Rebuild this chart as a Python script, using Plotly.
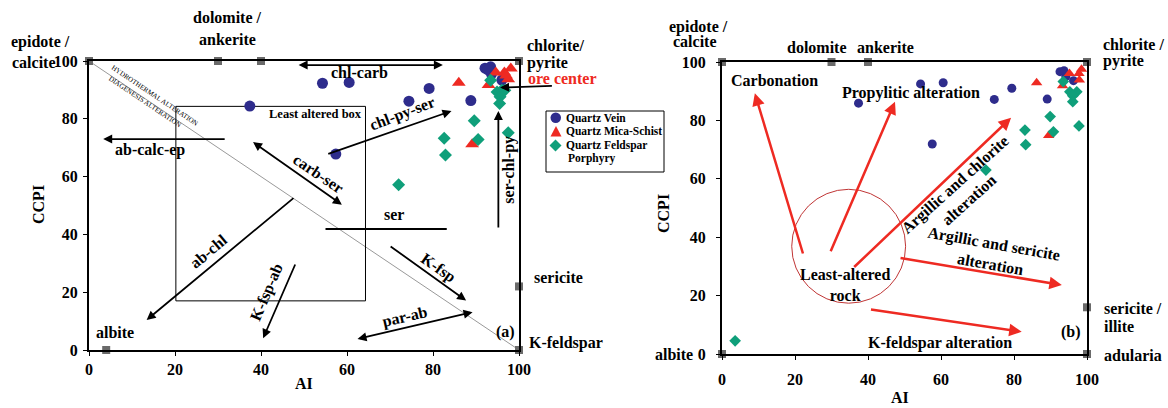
import plotly.graph_objects as go

# ---------------- data: panel (a) ----------------
a_vein_ai = [37.4, 54.3, 60.5, 74.4, 79.1, 88.8, 57.4, 92.1, 93.4, 93.6, 96.0, 92.8]
a_vein_ccpi = [84.4, 92.3, 92.6, 86.1, 90.5, 86.3, 67.8, 97.5, 98.0, 95.5, 93.4, 96.9]
a_schist_ai = [86.0, 89.1, 92.9, 94.6, 96.6, 98.1, 97.5, 97.0]
a_schist_ccpi = [92.5, 71.2, 91.7, 96.0, 96.0, 97.4, 93.7, 95.0]
a_porph_ai = [72.0, 82.6, 82.9, 89.6, 90.5, 97.5, 93.4, 94.9, 96.0, 95.6, 95.5, 96.7]
a_porph_ccpi = [57.2, 73.3, 67.5, 79.3, 72.8, 75.2, 93.3, 89.3, 89.9, 87.6, 85.3, 89.9]
a_mineral_ai = [0, 30, 40, 100, 100, 100, 4]
a_mineral_ccpi = [100, 100, 100, 100, 22, 0, 0]

# ---------------- data: panel (b) ----------------
b_vein_ai = [37.4, 54.4, 60.6, 74.6, 79.4, 89.1, 57.6, 92.6, 93.7, 94.2, 96.3]
b_vein_ccpi = [85.9, 92.5, 92.9, 87.2, 91.0, 87.3, 71.9, 96.7, 97.0, 95.0, 93.6]
b_schist_ai = [86.2, 89.5, 93.3, 95.2, 97.8, 98.5, 97.9]
b_schist_ccpi = [92.9, 74.8, 91.9, 96.1, 96.1, 97.5, 93.8]
b_porph_ai = [3.6, 72.3, 83.0, 83.2, 89.9, 90.8, 97.8, 93.5, 95.3, 97.2, 96.1, 96.1]
b_porph_ccpi = [4.5, 63.0, 76.7, 71.7, 81.3, 76.1, 78.1, 93.3, 89.8, 89.8, 88.4, 86.4]
b_mineral_ai = [0, 30, 40, 100, 100, 100, 0]
b_mineral_ccpi = [100, 100, 100, 100, 16, 0, 0]

tick_vals = [0, 20, 40, 60, 80, 100]
legend_names = ["Quartz Vein", "Quartz Mica-Schist", "Quartz Feldspar", "Porphyry"]

BLUE = "#2e2c8c"
RED = "#ee2a22"
GREEN = "#0f9f7a"
GRAY = "#6a6a6a"
FONT = "Liberation Serif"
LBL = 16

W, H = 1168, 408
fig = go.Figure()


def add_panel(xa, ya, vein, schist, porph, mineral, sizes):
    fig.add_trace(go.Scatter(x=vein[0], y=vein[1], mode="markers", name="Quartz Vein",
                             marker=dict(symbol="circle", size=sizes[0], color=BLUE),
                             xaxis=xa, yaxis=ya, showlegend=False, cliponaxis=False))
    fig.add_trace(go.Scatter(x=schist[0], y=schist[1], mode="markers", name="Quartz Mica-Schist",
                             marker=dict(symbol="triangle-up", size=sizes[1], color=RED),
                             xaxis=xa, yaxis=ya, showlegend=False, cliponaxis=False))
    fig.add_trace(go.Scatter(x=porph[0], y=porph[1], mode="markers", name="Quartz Feldspar Porphyry",
                             marker=dict(symbol="diamond", size=sizes[2], color=GREEN),
                             xaxis=xa, yaxis=ya, showlegend=False, cliponaxis=False))
    fig.add_trace(go.Scatter(x=mineral[0], y=mineral[1], mode="markers", name="minerals",
                             marker=dict(symbol="square", size=8, color=GRAY),
                             xaxis=xa, yaxis=ya, showlegend=False, cliponaxis=False))


add_panel("x", "y", (a_vein_ai, a_vein_ccpi), (a_schist_ai, a_schist_ccpi),
          (a_porph_ai, a_porph_ccpi), (a_mineral_ai, a_mineral_ccpi), (11, 12, 10))
add_panel("x2", "y2", (b_vein_ai, b_vein_ccpi), (b_schist_ai, b_schist_ccpi),
          (b_porph_ai, b_porph_ccpi), (b_mineral_ai, b_mineral_ccpi), (9, 10, 9))


def axis(domain, anchor, standoff):
    return dict(domain=domain, anchor=anchor, range=[0, 100], tickvals=tick_vals,
                showgrid=False, zeroline=False, showline=True, linecolor="black",
                linewidth=2, mirror=True, ticks="outside", ticklen=4, tickcolor="black",
                ticklabelstandoff=standoff, automargin=False,
                tickfont=dict(family=FONT, size=16, color="black", weight="bold"))


fig.update_layout(
    width=W, height=H, margin=dict(l=0, r=0, t=0, b=0, pad=0, autoexpand=False),
    paper_bgcolor="white", plot_bgcolor="white", showlegend=False,
    xaxis=axis([89 / W, 519 / W], "y", 0),
    yaxis=axis([1 - 350 / H, 1 - 61 / H], "x", 2),
    xaxis2=axis([722 / W, 1087 / W], "y2", 6),
    yaxis2=axis([1 - 354 / H, 1 - 62 / H], "x2", 7),
)

ann = []


def txt(xr, yr, x, y, s, size=LBL, color="black", angle=0, xanchor="center", bold=True):
    ann.append(dict(xref=xr, yref=yr, x=x, y=y, text=s, showarrow=False, textangle=angle,
                    xanchor=xanchor, yanchor="middle", align="center",
                    font=dict(family=FONT, size=size, color=color,
                              weight="bold" if bold else "normal")))


def ptxt(px, py, s, size=LBL, color="black", angle=0, xanchor="center", bold=True):
    ann.append(dict(xref="paper", yref="paper", x=px / W, y=1 - py / H, text=s,
                    showarrow=False, textangle=angle, xanchor=xanchor, yanchor="middle",
                    font=dict(family=FONT, size=size, color=color,
                              weight="bold" if bold else "normal")))


def arrow(xr, yr, hx, hy, tx, ty, color="black", width=1.8, both=False, size=1.0):
    ann.append(dict(xref=xr, yref=yr, axref=xr, ayref=yr, x=hx, y=hy, ax=tx, ay=ty,
                    text="", showarrow=True, arrowhead=2, arrowsize=size, arrowwidth=width,
                    arrowcolor=color, arrowside="end+start" if both else "end",
                    standoff=0, startstandoff=0))


# ---- panel (a) text outside the plot area (pixel positions) ----
ptxt(40, 42, "epidote /")
ptxt(34, 62, "calcite")
ptxt(227, 18, "dolomite /")
ptxt(227, 40, "ankerite")
ptxt(525, 45, "chlorite/", xanchor="left")
ptxt(525, 63, "pyrite", xanchor="left")
ptxt(562, 79, "ore center", color=RED)
ptxt(532, 277, "sericite", xanchor="left")
ptxt(527, 343, "K-feldspar", xanchor="left")
ptxt(38, 205, "CCPI", angle=-90)
ptxt(304, 383, "AI")

# ---- panel (a) text inside ----
txt("x", "y", 6.0, 5.9, "albite")
txt("x", "y", 96.9, 6.3, "(a)")
txt("x", "y", 52.6, 81.5, "Least altered box", size=12.5)
txt("x", "y", 63.0, 95.9, "chl-carb")
txt("x", "y", 14.2, 69.3, "ab-calc-ep")
txt("x", "y", 53.3, 61.0, "carb-ser", angle=34)
txt("x", "y", 72.7, 81.8, "chl-py-ser", angle=-21)
txt("x", "y", 97.7, 62.4, "ser-chl-py", angle=-90)
txt("x", "y", 70.9, 46.8, "ser")
txt("x", "y", 81.2, 28.3, "K-fsp", angle=35)
txt("x", "y", 73.5, 11.5, "par-ab", angle=-13)
txt("x", "y", 27.7, 34.1, "ab-chl", angle=-40)
txt("x", "y", 41.3, 20.2, "K-fsp-ab", angle=-67)
txt("x", "y", 15.3, 87.8, "HYDROTHERMAL ALTERATION", size=7, angle=34, bold=False)
txt("x", "y", 13.0, 85.8, "DIAGENESIS ALTERATION", size=7, angle=34, bold=False)

arrow("x", "y", 82.3, 98.6, 48.4, 98.6, both=True)
arrow("x", "y", 3.3, 73.0, 31.9, 73.0)
arrow("x", "y", 58.8, 50.3, 37.8, 72.3, both=True)
arrow("x", "y", 84.3, 82.7, 55.3, 67.7)
arrow("x", "y", 95.2, 82.7, 95.2, 41.9)
arrow("x", "y", 87.7, 17.1, 69.8, 36.2)
arrow("x", "y", 89.2, 13.1, 62.1, 3.7, both=True)
arrow("x", "y", 13.4, 10.4, 47.9, 53.0)
arrow("x", "y", 40.5, 4.1, 48.1, 30.1)
arrow("x", "y", 95.6, 90.8, 108.0, 91.4)

# ---- legend key text ----
LEG_FONT = 11.5
ptxt(564, 118, legend_names[0], size=LEG_FONT, xanchor="left")
ptxt(564, 131, legend_names[1], size=LEG_FONT, xanchor="left")
ptxt(564, 145, legend_names[2], size=LEG_FONT, xanchor="left")
ptxt(566, 159, legend_names[3], size=LEG_FONT, xanchor="left")

# ---- panel (b) text outside ----
ptxt(698, 27, "epidote /")
ptxt(695, 42, "calcite")
ptxt(817, 47, "dolomite")
ptxt(885, 47, "ankerite")
ptxt(1101, 44, "chlorite /", xanchor="left")
ptxt(1101, 61, "pyrite", xanchor="left")
ptxt(1102, 308, "sericite /", xanchor="left")
ptxt(1102, 326, "illite", xanchor="left")
ptxt(1102, 355, "adularia", xanchor="left")
ptxt(674, 354, "albite")
ptxt(663, 214, "CCPI", angle=-90)
ptxt(900, 397, "AI")

# ---- panel (b) text inside ----
txt("x2", "y2", 95.6, 7.6, "(b)")
txt("x2", "y2", 1.9, 93.6, "Carbonation", xanchor="left")
txt("x2", "y2", 51.8, 89.3, "Propylitic alteration")
txt("x2", "y2", 65.8, 55.5, "Argillic and chlorite<br>alteration", angle=-42)
txt("x2", "y2", 74.0, 34.2, "Argillic and sericite<br>alteration", angle=10)
txt("x2", "y2", 33.7, 23.6, "Least-altered<br>rock")
txt("x2", "y2", 59.7, 3.9, "K-feldspar alteration")

arrow("x2", "y2", 9.0, 89.3, 22.3, 33.9, color=RED, width=2.5)
arrow("x2", "y2", 47.4, 86.4, 29.6, 34.7, color=RED, width=2.5)
arrow("x2", "y2", 79.2, 80.9, 35.8, 29.3, color=RED, width=2.5)
arrow("x2", "y2", 93.1, 23.6, 48.5, 33.0, color=RED, width=2.5)
arrow("x2", "y2", 82.1, 7.6, 40.4, 15.3, color=RED, width=2.5)


def pp(px, py):
    return f"{px / W:.5f},{1 - py / H:.5f}"


shapes = [
    dict(type="line", xref="x", yref="y", x0=0, y0=100, x1=100, y1=0,
         line=dict(color="#999999", width=1), layer="below"),
    dict(type="rect", xref="x", yref="y", x0=20.2, x1=64.3, y0=17.0, y1=84.3,
         line=dict(color="black", width=1), layer="below"),
    dict(type="line", xref="x", yref="y", x0=55.0, y0=41.9, x1=83.2, y1=41.9,
         line=dict(color="black", width=2)),
    dict(type="circle", xref="x2", yref="y2", x0=19.1, x1=50.3, y0=17.4, y1=56.4,
         line=dict(color="#c03535", width=1)),
    # legend frame and key symbols
    dict(type="rect", xref="paper", yref="paper", x0=546 / W, x1=664 / W,
         y0=1 - 172 / H, y1=1 - 111 / H, line=dict(color="black", width=1)),
    dict(type="circle", xref="paper", yref="paper", x0=550.5 / W, x1=561 / W,
         y0=1 - 123 / H, y1=1 - 112.5 / H, fillcolor=BLUE, line=dict(width=0)),
    dict(type="path", xref="paper", yref="paper",
         path=f"M {pp(556, 126)} L {pp(561.5, 136.5)} L {pp(550.5, 136.5)} Z",
         fillcolor=RED, line=dict(width=0)),
    dict(type="path", xref="paper", yref="paper",
         path=f"M {pp(555.5, 139.5)} L {pp(561.5, 145.5)} L {pp(555.5, 151.5)} L {pp(549.5, 145.5)} Z",
         fillcolor=GREEN, line=dict(width=0)),
]

fig.update_layout(annotations=ann, shapes=shapes)
fig.write_html("out.html")
